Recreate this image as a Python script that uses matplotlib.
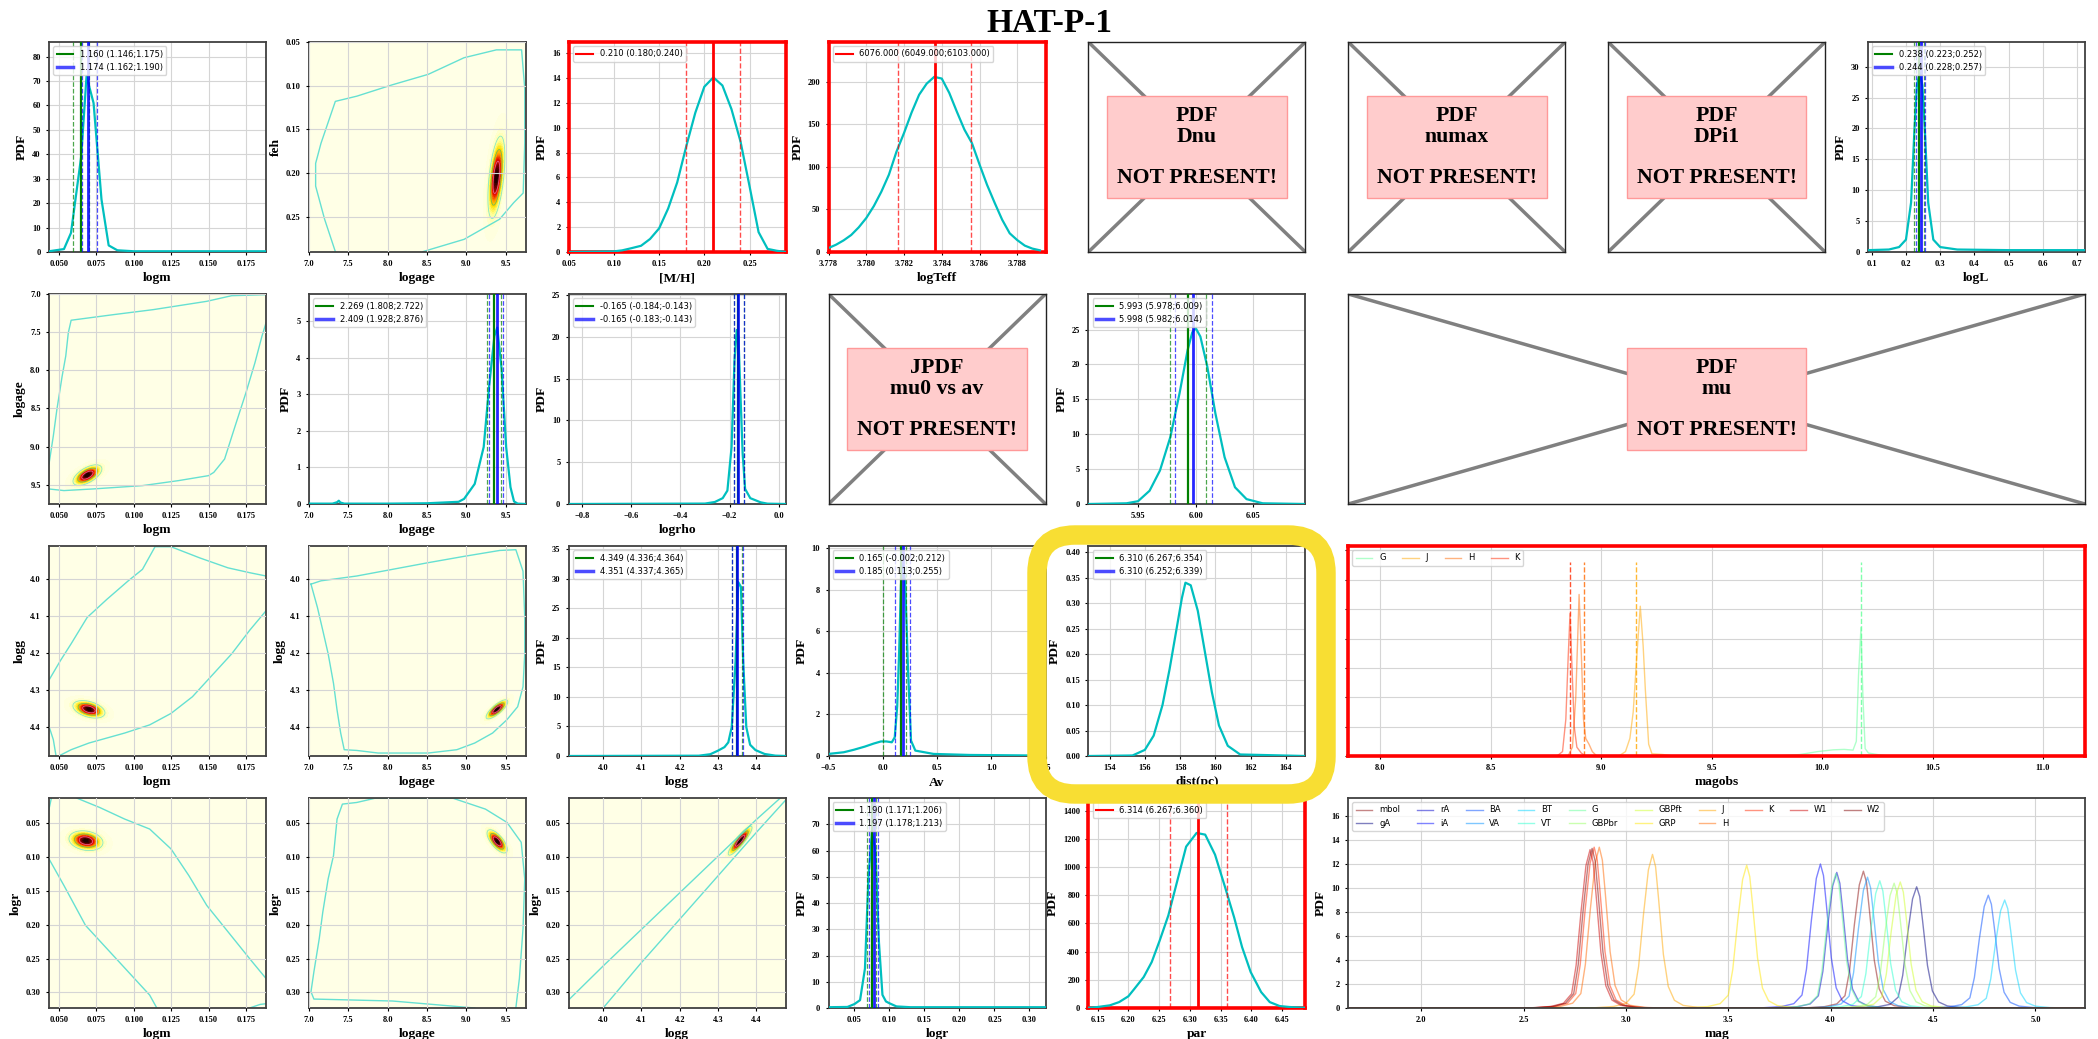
import numpy as np
import matplotlib
matplotlib.use("Agg")
import matplotlib.pyplot as plt
from matplotlib.colors import LinearSegmentedColormap
from matplotlib.lines import Line2D
from matplotlib.patches import FancyBboxPatch
from matplotlib.transforms import IdentityTransform

W, H = 2098, 1039
SERIF = "Liberation Serif"

# ---------------- 1D PDFs ----------------
logm_x = [0.0433, 0.0533, 0.058, 0.0648, 0.0684, 0.0731, 0.0784, 0.0832, 0.089, 0.100, 0.150, 0.1884]
logm_y = [0.3, 1.2, 7.8, 39, 72, 61, 21.5, 2.7, 0.7, 0.3, 0.3, 0.3]
mass_green = [1.160, 1.146, 1.175]
mass_blue = [1.174, 1.162, 1.190]

mh_x = [0.05, 0.10, 0.109, 0.119, 0.13, 0.14, 0.15, 0.16, 0.17, 0.18, 0.19, 0.20, 0.21,
        0.22, 0.23, 0.24, 0.25, 0.26, 0.27, 0.28, 0.29]
mh_y = [0, 0.05, 0.13, 0.3, 0.5, 1.05, 1.9, 3.5, 5.6, 8.5, 11.2, 13.3, 14.05,
        13.4, 11.5, 8.9, 5.3, 1.6, 0.25, 0.1, 0.0]
mh_obs = [0.210, 0.180, 0.240]

teff_x = [3.7780, 3.7784, 3.7788, 3.7792, 3.7796, 3.7800, 3.7804, 3.7808, 3.7812, 3.7816,
          3.7820, 3.7824, 3.7828, 3.7832, 3.7836, 3.7840, 3.7844, 3.7848, 3.7852, 3.7856,
          3.7860, 3.7864, 3.7868, 3.7872, 3.7876, 3.7880, 3.7884, 3.7888, 3.7892]
teff_y = [4.7, 8.6, 13.7, 20, 29, 40, 54, 71, 91, 118, 140, 164, 185, 198, 206, 204, 187,
          165, 144, 128, 103, 79, 58, 38, 22, 14, 7.5, 4, 2]
teff_obs = [6076.0, 6049.0, 6103.0]

logL_x = [0.089, 0.15, 0.18, 0.20, 0.215, 0.225, 0.232, 0.24, 0.248, 0.255, 0.265, 0.28, 0.30, 0.35, 0.50, 0.723]
logL_y = [0.3, 0.4, 0.8, 2.0, 8, 20, 27, 29, 27, 20, 8, 2, 0.8, 0.4, 0.3, 0.3]
lum_green = [0.238, 0.223, 0.252]
lum_blue = [0.244, 0.228, 0.257]

age_x = [7.0, 7.3, 7.36, 7.38, 7.40, 7.45, 8.0, 8.5, 8.9, 8.97, 9.105, 9.219, 9.287, 9.355,
         9.391, 9.446, 9.504, 9.559, 9.604, 9.65, 9.754]
age_y = [0.01, 0.01, 0.05, 0.09, 0.04, 0.01, 0.01, 0.02, 0.06, 0.14, 0.55, 1.56, 3.2, 4.6,
         4.83, 3.7, 1.56, 0.46, 0.07, 0.01, 0.0]
age_green = [2.269, 1.808, 2.722]
age_blue = [2.409, 1.928, 2.876]

rho_x = [-0.854, -0.30, -0.26, -0.228, -0.209, -0.192, -0.180, -0.171, -0.164, -0.156,
         -0.147, -0.137, -0.116, -0.074, -0.046, 0.028]
rho_y = [0, 0.05, 0.24, 0.7, 1.6, 6.8, 17.2, 20.8, 20.0, 13.2, 6.0, 1.8, 0.7, 0.2, 0.04, 0]
rho_green = [-0.165, -0.184, -0.143]
rho_blue = [-0.165, -0.183, -0.143]

mu_x = [5.907, 5.94, 5.95, 5.96, 5.969, 5.978, 5.986, 5.993, 5.997, 6.0, 6.004, 6.01,
        6.017, 6.025, 6.034, 6.044, 6.058, 6.095]
mu_y = [0, 0.1, 0.4, 1.9, 4.8, 9.6, 15.9, 22.1, 24.6, 25.2, 24, 19.7, 13, 6.7, 2.4, 0.7, 0.1, 0]
mu_green = [5.993, 5.978, 6.009]
mu_blue = [5.998, 5.982, 6.014]

logg_x = [3.91, 4.25, 4.28, 4.30, 4.317, 4.327, 4.336, 4.346, 4.353, 4.36, 4.366, 4.374,
          4.384, 4.398, 4.422, 4.45, 4.477]
logg_y = [0, 0.05, 0.3, 0.9, 1.5, 2.3, 4.9, 16, 29.4, 28.6, 16, 4.9, 1.9, 1.0, 0.34, 0.06, 0]
logg_green = [4.349, 4.336, 4.364]
logg_blue = [4.351, 4.337, 4.365]

av_x = [-0.5, -0.36, -0.267, -0.167, -0.083, -0.017, 0.033, 0.083, 0.11, 0.133, 0.15,
        0.167, 0.18, 0.195, 0.207, 0.233, 0.26, 0.3, 0.467, 0.8, 1.5]
av_y = [0.1, 0.18, 0.3, 0.45, 0.6, 0.7, 0.7, 0.66, 0.9, 2.4, 4.9, 8.2, 9.2, 9.0, 8.2,
        4.1, 0.74, 0.26, 0.1, 0.05, 0.02]
av_green = [0.165, -0.002, 0.212]
av_blue = [0.185, 0.113, 0.255]

dist_x = [152.8, 155.3, 156.0, 156.5, 157.0, 157.4, 157.8, 158.1, 158.3, 158.6, 159.0,
          159.4, 159.8, 160.2, 160.7, 161.4, 165.1]
dist_y = [0.0, 0.001, 0.012, 0.04, 0.10, 0.17, 0.25, 0.31, 0.34, 0.335, 0.285, 0.205,
          0.125, 0.06, 0.02, 0.003, 0.0]
dist_green = [6.310, 6.267, 6.354]
dist_blue = [6.310, 6.252, 6.339]

logr_x = [0.013, 0.04, 0.05, 0.058, 0.065, 0.07, 0.075, 0.08, 0.085, 0.09, 0.095, 0.10,
          0.11, 0.13, 0.323]
logr_y = [0.3, 0.4, 1.5, 3, 15, 50, 67, 60, 25, 5, 2.5, 1.8, 0.6, 0.3, 0.3]
rad_green = [1.190, 1.171, 1.206]
rad_blue = [1.197, 1.178, 1.213]

par_x = [6.135, 6.15, 6.17, 6.185, 6.2, 6.21, 6.225, 6.238, 6.251, 6.265, 6.279, 6.294,
         6.311, 6.325, 6.341, 6.357, 6.372, 6.385, 6.399, 6.416, 6.43, 6.446, 6.462, 6.488]
par_y = [2, 7, 19, 42, 83, 137, 220, 326, 479, 656, 892, 1145, 1242, 1230, 1088, 862,
         644, 432, 255, 113, 42, 14, 7, 2]
par_obs = [6.314, 6.267, 6.360]

# observed magnitudes panel
obs_bands = ["G", "J", "H", "K"]
obs_mags = [10.176, 9.156, 8.923, 8.858]
obs_line_top = 13.2
G_obs_x = [9.80, 9.90, 9.98, 10.05, 10.10, 10.14, 10.155, 10.165, 10.176, 10.185, 10.195, 10.21, 10.25, 10.30]
G_obs_y = [0.0, 0.1, 0.3, 0.42, 0.45, 0.4, 1.0, 5.5, 8.75, 4.0, 0.5, 0.2, 0.1, 0.0]
J_obs_x = [9.08, 9.11, 9.13, 9.145, 9.16, 9.177, 9.19, 9.20, 9.215, 9.23, 9.28, 9.33]
J_obs_y = [0.0, 0.3, 1.2, 3.0, 6.5, 10.2, 7.5, 4.5, 0.8, 0.15, 0.1, 0.0]
H_obs_x = [8.85, 8.87, 8.885, 8.90, 8.91, 8.92, 8.93, 8.945, 8.96, 8.98]
H_obs_y = [0.0, 0.6, 4.0, 11.0, 7.0, 2.5, 1.2, 0.8, 0.3, 0.0]
K_obs_x = [8.80, 8.825, 8.84, 8.85, 8.859, 8.868, 8.878, 8.89, 8.91, 8.93]
K_obs_y = [0.0, 0.3, 2.5, 6.5, 9.7, 6.0, 2.0, 0.6, 0.2, 0.0]

# model magnitudes panel
mag_bands = ["mbol", "gA", "rA", "iA", "BA", "VA", "BT", "VT", "G", "GBPbr", "GBPft",
             "GRP", "J", "H", "K", "W1", "W2"]
mag_centers = [4.16, 4.42, 4.03, 3.95, 4.77, 4.18, 4.85, 4.24, 4.025, 4.31, 4.34,
               3.59, 3.13, 2.87, 2.845, 2.825, 2.835]
mag_peaks = [11.4, 10.1, 11.3, 12.0, 9.4, 10.9, 9.0, 10.6, 11.2, 10.4, 10.5,
             11.9, 12.8, 13.4, 13.4, 13.2, 13.3]
mag_profile_dx = [-0.30, -0.19, -0.13, -0.09, -0.068, -0.044, -0.02, 0.0, 0.015, 0.029,
                  0.053, 0.077, 0.107, 0.15, 0.22, 0.30]
mag_profile_y = [0.0, 0.01, 0.03, 0.09, 0.27, 0.61, 0.9, 1.0, 0.92, 0.72, 0.35, 0.14,
                 0.05, 0.017, 0.004, 0.0]

# ---------------- 2D joint PDFs ----------------
# blob: centre, sigmas, correlation
feh_blob = [(9.38, 0.205), (0.05, 0.022), -0.5]
m_age_blob = [(0.069, 9.375), (0.0045, 0.063), -0.6]
m_g_blob = [(0.070, 4.351), (0.005, 0.011), 0.4]
age_g_blob = [(9.387, 4.351), (0.064, 0.012), -0.8]
m_r_blob = [(0.068, 0.076), (0.0053, 0.0068), 0.2]
age_r_blob = [(9.39, 0.077), (0.06, 0.008), 0.7]
g_r_blob = [(4.358, 0.076), (0.0145, 0.010), -0.9]

# outer contour traces
feh_edge = [[7.336, 7.20, 7.086, 7.086, 7.154, 7.336, 7.61, 8.06, 8.516, 8.97, 9.38, 9.70,
             9.74, 9.74, 9.72, 9.60, 9.42, 8.97, 8.45],
            [0.29, 0.253, 0.215, 0.189, 0.166, 0.118, 0.112, 0.099, 0.087, 0.068, 0.059,
             0.059, 0.103, 0.166, 0.223, 0.234, 0.253, 0.276, 0.29]]
m_age_edges = [
    [[0.1884, 0.1655, 0.1488, 0.113, 0.0867, 0.0581, 0.0562, 0.0545, 0.0521, 0.0486, 0.0462, 0.0433],
     [7.009, 7.022, 7.096, 7.205, 7.27, 7.344, 7.51, 7.814, 8.076, 8.511, 8.86, 9.23]],
    [[0.0433, 0.0533, 0.0724, 0.1058, 0.1297, 0.15, 0.1535, 0.1607, 0.1678, 0.175, 0.181, 0.1857, 0.1884],
     [9.557, 9.578, 9.557, 9.513, 9.448, 9.382, 9.339, 9.165, 8.729, 8.294, 7.902, 7.553, 7.379]],
]
m_g_edges = [
    [[0.0433, 0.051, 0.0581, 0.0688, 0.082, 0.0963, 0.1058, 0.1142, 0.1249, 0.144, 0.163, 0.1774, 0.1884],
     [4.272, 4.219, 4.174, 4.103, 4.054, 4.004, 3.973, 3.912, 3.912, 3.942, 3.969, 3.982, 3.991]],
    [[0.1884, 0.1774, 0.1655, 0.1535, 0.1392, 0.1249, 0.1106, 0.0939, 0.070, 0.0581, 0.0498],
     [4.085, 4.138, 4.201, 4.254, 4.317, 4.362, 4.393, 4.415, 4.442, 4.46, 4.477]],
    [[0.0433, 0.0462, 0.048], [4.397, 4.433, 4.477]],
]
age_g_edge = [[7.027, 7.109, 7.177, 7.245, 7.313, 7.358, 7.404, 7.449, 7.608, 7.88, 8.515,
               8.878, 9.105, 9.332, 9.514, 9.65, 9.718, 9.74, 9.74, 9.718, 9.627, 9.423,
               8.969, 8.515, 8.062, 7.608, 7.154, 7.027],
              [4.013, 4.076, 4.138, 4.201, 4.281, 4.353, 4.415, 4.46, 4.462, 4.469, 4.469,
               4.46, 4.442, 4.415, 4.379, 4.344, 4.29, 4.201, 4.103, 3.978, 3.92, 3.922,
               3.938, 3.955, 3.973, 3.991, 4.004, 4.013]]
m_r_edges = [
    [[0.045, 0.0433], [0.012, 0.0294]],
    [[0.0617, 0.0772, 0.0939, 0.1106, 0.1249, 0.1368, 0.1488, 0.1631, 0.1774, 0.1884],
     [0.013, 0.027, 0.0441, 0.0588, 0.0882, 0.1275, 0.1716, 0.2108, 0.25, 0.2794]],
    [[0.0433, 0.0533, 0.0677, 0.082, 0.0963, 0.1106, 0.1154],
     [0.1029, 0.1422, 0.201, 0.2353, 0.2696, 0.3039, 0.323]],
    [[0.1774, 0.1845, 0.1884], [0.323, 0.3177, 0.3167]],
]
age_r_edge = [[9.105, 8.062, 7.064, 7.027, 7.064, 7.132, 7.177, 7.245, 7.313, 7.358, 7.426,
               7.608, 7.835, 8.833, 9.241, 9.514, 9.695, 9.74, 9.718, 9.672, 9.627],
              [0.323, 0.3127, 0.3098, 0.299, 0.2696, 0.2206, 0.1814, 0.1324, 0.098, 0.0441,
               0.022, 0.0196, 0.0135, 0.0135, 0.0294, 0.049, 0.0784, 0.1324, 0.2059, 0.2794, 0.323]]
g_r_edges = [
    [[3.91, 4.0, 4.1, 4.2, 4.3, 4.4, 4.463], [0.311, 0.261, 0.207, 0.153, 0.099, 0.045, 0.013]],
    [[4.0, 4.1, 4.2, 4.3, 4.4, 4.477], [0.323, 0.256, 0.192, 0.128, 0.064, 0.016]],
]

missing_texts = ["PDF\nDnu\n\nNOT PRESENT!", "PDF\nnumax\n\nNOT PRESENT!",
                 "PDF\nDPi1\n\nNOT PRESENT!", "JPDF\nmu0 vs av\n\nNOT PRESENT!",
                 "PDF\nmu\n\nNOT PRESENT!"]

# ---------------- style ----------------
plt.rcParams.update({
    "font.family": SERIF,
    "font.weight": "bold",
    "axes.labelweight": "bold",
    "axes.labelsize": 9.7,
    "xtick.labelsize": 6,
    "ytick.labelsize": 6,
    "axes.edgecolor": "#404040",
    "axes.linewidth": 1.3,
    "xtick.major.size": 2.5,
    "ytick.major.size": 2.5,
    "axes.formatter.useoffset": False,
    "axes.labelpad": 3,
})
LEG = {"family": "DejaVu Sans", "size": 6, "weight": "normal"}
DENS = LinearSegmentedColormap.from_list(
    "dens", ["#FFFFE6", "#FFFF90", "#FFE000", "#FF9000", "#E81000", "#8B0000", "#150000"])
EDGE = "#55DDD0"
jet = plt.get_cmap("jet")
band_color = {"mbol": (0.55, 0.05, 0.05)}
for i, b in enumerate(mag_bands[1:]):
    band_color[b] = jet(i / 15)

fig = plt.figure(figsize=(W / 100, H / 100), dpi=100)

# regular 4 x 8 grid in pixels
COL_L = [49 + 259.85 * i for i in range(8)]
COL_W = 217
ROW_T = [42, 294, 546, 798]
ROW_H = 210


def cell(row, c0, c1=None):
    c1 = c0 if c1 is None else c1
    x0, x1 = COL_L[c0], COL_L[c1] + COL_W
    y0, y1 = ROW_T[row], ROW_T[row] + ROW_H
    return fig.add_axes([x0 / W, 1 - y1 / H, (x1 - x0) / W, (y1 - y0) / H])


def style(ax, xlim, ylim, xticks, yticks, xlabel, ylabel):
    ax.set_xlim(xlim)
    ax.set_ylim(ylim)
    ax.set_xticks(xticks)
    ax.set_yticks(yticks)
    ax.set_xlabel(xlabel)
    ax.set_ylabel(ylabel)
    ax.grid(True, color="#d5d5d5", lw=0.8)


def fmt(s):
    return f"{s[0]:.3f} ({s[1]:.3f};{s[2]:.3f})"


def pdf_panel(ax, x, y, green, blue, conv=np.asarray):
    ax.plot(x, y, color="c", lw=1.6, zorder=3)
    for st, col, lw_mid, a in ((green, "g", 1.6, 1.0), (blue, "b", 2.0, 0.85)):
        pos = conv(np.array(st))
        ax.axvline(pos[0], color=col, lw=lw_mid, alpha=a, zorder=4)
        ax.axvline(pos[1], color=col, lw=0.9, ls="--", alpha=0.7, zorder=4)
        ax.axvline(pos[2], color=col, lw=0.9, ls="--", alpha=0.7, zorder=4)
    hs = [Line2D([], [], color="g", lw=1.5), Line2D([], [], color="b", lw=2.5, alpha=0.7)]
    ax.legend(hs, [fmt(green), fmt(blue)], loc="upper left", prop=LEG)


def red_frame(ax):
    for sp in ax.spines.values():
        sp.set_color("red")
        sp.set_linewidth(2.6)


def red_panel(ax, x, y, obs, conv=np.asarray):
    ax.plot(x, y, color="c", lw=1.6, zorder=3)
    pos = conv(np.array(obs))
    ax.axvline(pos[0], color="r", lw=2, zorder=4)
    ax.axvline(pos[1], color="r", lw=1, ls="--", alpha=0.7, zorder=4)
    ax.axvline(pos[2], color="r", lw=1, ls="--", alpha=0.7, zorder=4)
    ax.legend([Line2D([], [], color="r", lw=1.5)], [fmt(obs)], loc="upper left", prop=LEG)
    red_frame(ax)


def joint_panel(ax, xlim, ylim, blob, edges):
    (cx, cy), (sx, sy), r = blob
    gx = np.linspace(xlim[0], xlim[1], 320)
    gy = np.linspace(min(ylim), max(ylim), 320)
    X, Y = np.meshgrid(gx, gy)
    u = (X - cx) / sx
    v = (Y - cy) / sy
    Z = np.exp(-(u * u - 2 * r * u * v + v * v) / (2 * (1 - r * r)))
    ax.set_facecolor("#FFFFE6")
    ax.contourf(X, Y, Z, levels=np.linspace(0.004, 1.0, 30), cmap=DENS, zorder=1)
    ax.contour(X, Y, Z, levels=[0.1, 0.35, 0.7],
               colors=[EDGE, "#3cb371", "#ff7fbf"], linewidths=0.6, alpha=0.7, zorder=2)
    for ex, ey in edges:
        ax.plot(ex, ey, color=EDGE, lw=1.0, alpha=0.9, zorder=2)
    ax.set_axisbelow(False)


def missing_panel(ax, text):
    ax.plot([0, 1], [0, 1], transform=ax.transAxes, color="#808080", lw=2.5)
    ax.plot([0, 1], [1, 0], transform=ax.transAxes, color="#808080", lw=2.5)
    ax.set_xlim(0, 1)
    ax.set_ylim(0, 1)
    ax.set_xticks([])
    ax.set_yticks([])
    for sp in ax.spines.values():
        sp.set_color("#222222")
        sp.set_linewidth(1.0)
    ax.text(0.5, 0.5, text, transform=ax.transAxes, ha="center", va="center",
            fontsize=15.7, fontweight="bold", linespacing=1.05,
            bbox=dict(boxstyle="square,pad=0.45", fc="#FFCCCC", ec="#FF9999", lw=1))


LOGM = (0.0433, 0.1884)
LOGAGE = (7.0, 9.754)
LOGG = (3.91, 4.477)
LOGR = (0.013, 0.323)
t_logm = [0.050, 0.075, 0.100, 0.125, 0.150, 0.175]
t_age = [7.0, 7.5, 8.0, 8.5, 9.0, 9.5]
t_logg = [4.0, 4.1, 4.2, 4.3, 4.4]
t_logr = [0.05, 0.10, 0.15, 0.20, 0.25, 0.30]
age_conv = lambda a: np.log10(a * 1e9)

# ---------------- row 1 ----------------
ax = cell(0, 0)
pdf_panel(ax, logm_x, logm_y, mass_green, mass_blue, np.log10)
style(ax, LOGM, (0, 86), t_logm, range(0, 81, 10), "logm", "PDF")

ax = cell(0, 1)
joint_panel(ax, LOGAGE, (0.2905, 0.05), feh_blob, [feh_edge])
style(ax, LOGAGE, (0.2905, 0.05), t_age, [0.05, 0.10, 0.15, 0.20, 0.25], "logage", "feh")

ax = cell(0, 2)
red_panel(ax, mh_x, mh_y, mh_obs)
style(ax, (0.05, 0.29), (0, 16.9), [0.05, 0.10, 0.15, 0.20, 0.25], range(0, 17, 2), "[M/H]", "PDF")

ax = cell(0, 3)
red_panel(ax, teff_x, teff_y, teff_obs, np.log10)
style(ax, (3.778, 3.7895), (0, 247), [3.778, 3.780, 3.782, 3.784, 3.786, 3.788],
      range(0, 201, 50), "logTeff", "PDF")

for c, t in zip((4, 5, 6), missing_texts[:3]):
    missing_panel(cell(0, c), t)

ax = cell(0, 7)
pdf_panel(ax, logL_x, logL_y, lum_green, lum_blue)
style(ax, (0.089, 0.723), (0, 34), [0.1, 0.2, 0.3, 0.4, 0.5, 0.6, 0.7], range(0, 31, 5), "logL", "PDF")

# ---------------- row 2 ----------------
ax = cell(1, 0)
joint_panel(ax, LOGM, (9.754, 7.0), m_age_blob, m_age_edges)
style(ax, LOGM, (9.754, 7.0), t_logm, t_age, "logm", "logage")

ax = cell(1, 1)
pdf_panel(ax, age_x, age_y, age_green, age_blue, age_conv)
style(ax, LOGAGE, (0, 5.75), t_age, range(0, 6), "logage", "PDF")

ax = cell(1, 2)
pdf_panel(ax, rho_x, rho_y, rho_green, rho_blue)
style(ax, (-0.854, 0.028), (0, 25.1), [-0.8, -0.6, -0.4, -0.2, 0.0], range(0, 26, 5), "logrho", "PDF")

missing_panel(cell(1, 3), missing_texts[3])

ax = cell(1, 4)
pdf_panel(ax, mu_x, mu_y, mu_green, mu_blue)
style(ax, (5.907, 6.095), (0, 30.1), [5.95, 6.00, 6.05], range(0, 26, 5), "mu0", "PDF")

missing_panel(cell(1, 5, 7), missing_texts[4])

# ---------------- row 3 ----------------
ax = cell(2, 0)
joint_panel(ax, LOGM, (LOGG[1], LOGG[0]), m_g_blob, m_g_edges)
style(ax, LOGM, (LOGG[1], LOGG[0]), t_logm, t_logg, "logm", "logg")

ax = cell(2, 1)
joint_panel(ax, LOGAGE, (LOGG[1], LOGG[0]), age_g_blob, [age_g_edge])
style(ax, LOGAGE, (LOGG[1], LOGG[0]), t_age, t_logg, "logage", "logg")

ax = cell(2, 2)
pdf_panel(ax, logg_x, logg_y, logg_green, logg_blue)
style(ax, LOGG, (0, 35.5), t_logg, range(0, 36, 5), "logg", "PDF")

ax = cell(2, 3)
pdf_panel(ax, av_x, av_y, av_green, av_blue)
style(ax, (-0.5, 1.5), (0, 10.1), [-0.5, 0.0, 0.5, 1.0, 1.5], range(0, 11, 2), "Av", "PDF")

ax = cell(2, 4)
pdf_panel(ax, dist_x, dist_y, dist_green, dist_blue)
style(ax, (152.8, 165.1), (0, 0.412), [154, 156, 158, 160, 162, 164],
      [0.00, 0.05, 0.10, 0.15, 0.20, 0.25, 0.30, 0.35, 0.40], "dist(pc)", "PDF")

ax = cell(2, 5, 7)
for b, ox, oy in zip(obs_bands, (G_obs_x, J_obs_x, H_obs_x, K_obs_x), (G_obs_y, J_obs_y, H_obs_y, K_obs_y)):
    ax.plot(ox, oy, color=band_color[b], alpha=0.5, lw=1, label=b)
ax.vlines(obs_mags, 0, obs_line_top, colors=[band_color[b] for b in obs_bands],
          linestyles="--", lw=1, alpha=0.8)
ax.legend(loc="upper left", ncol=4, prop=LEG)
style(ax, (7.855, 11.19), (0, 14.3), [8.0, 8.5, 9.0, 9.5, 10.0, 10.5, 11.0], range(0, 15, 2), "magobs", "PDF")
ax.set_yticklabels([])
red_frame(ax)

# ---------------- row 4 ----------------
ax = cell(3, 0)
joint_panel(ax, LOGM, (LOGR[1], LOGR[0]), m_r_blob, m_r_edges)
style(ax, LOGM, (LOGR[1], LOGR[0]), t_logm, t_logr, "logm", "logr")

ax = cell(3, 1)
joint_panel(ax, LOGAGE, (LOGR[1], LOGR[0]), age_r_blob, [age_r_edge])
style(ax, LOGAGE, (LOGR[1], LOGR[0]), t_age, t_logr, "logage", "logr")

ax = cell(3, 2)
joint_panel(ax, LOGG, (LOGR[1], LOGR[0]), g_r_blob, g_r_edges)
style(ax, LOGG, (LOGR[1], LOGR[0]), t_logg, t_logr, "logg", "logr")

ax = cell(3, 3)
pdf_panel(ax, logr_x, logr_y, rad_green, rad_blue, np.log10)
style(ax, LOGR, (0, 80), t_logr, range(0, 71, 10), "logr", "PDF")

ax = cell(3, 4)
red_panel(ax, par_x, par_y, par_obs)
style(ax, (6.135, 6.488), (0, 1490), [6.15, 6.20, 6.25, 6.30, 6.35, 6.40, 6.45],
      range(0, 1401, 200), "par", "PDF")

ax = cell(3, 5, 7)
xlim_mag = (1.644, 5.242)
prof_dx = np.array(mag_profile_dx)
prof_y = np.array(mag_profile_y)
for b, c, p in zip(mag_bands, mag_centers, mag_peaks):
    xs = np.concatenate([[xlim_mag[0]], c + prof_dx, [xlim_mag[1]]])
    ys = np.concatenate([[0.0], p * prof_y, [0.0]])
    ax.plot(xs, ys, color=band_color[b], alpha=0.5, lw=1, label=b)
ax.legend(loc="upper left", ncol=10, prop=LEG)
style(ax, xlim_mag, (0, 17.5), [2.0, 2.5, 3.0, 3.5, 4.0, 4.5, 5.0], range(0, 17, 2), "mag", "PDF")

# ---------------- title and highlight ----------------
fig.text(0.5, 1 - 32 / H, "HAT-P-1", ha="center", va="baseline", fontsize=24, fontweight="bold")

hl = FancyBboxPatch((1037, H - 794), 289, 259, boxstyle="round,pad=0,rounding_size=38",
                    transform=IdentityTransform(), fill=False, ec="#F8DE33", lw=14, zorder=50)
fig.add_artist(hl)

fig.savefig("out.png", dpi=100)
